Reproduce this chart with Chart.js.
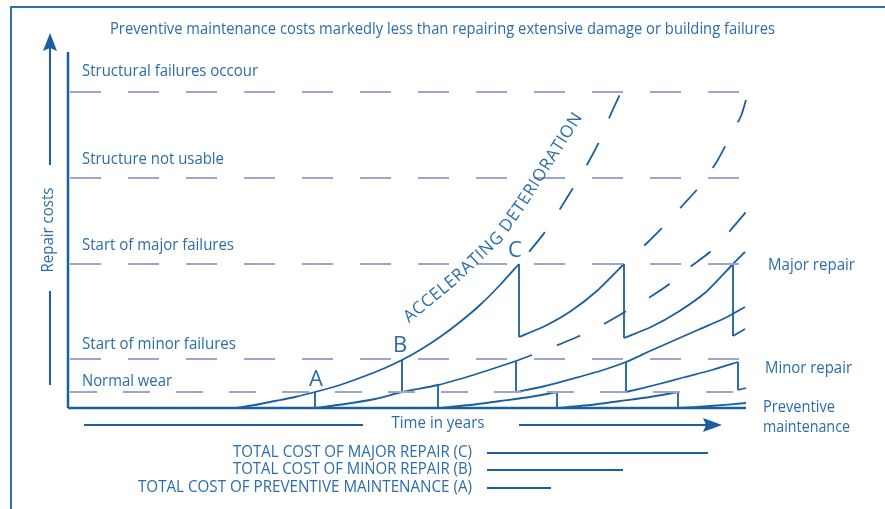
<!DOCTYPE html>
<html>
<head>
<meta charset="utf-8">
<script src="https://cdn.jsdelivr.net/npm/chart.js@4"></script>
<style>
  body { margin: 0; background: #fff; }
  canvas { display: block; }
</style>
</head>
<body>
<canvas id="chart" width="885" height="509"></canvas>
<script>
// 数据: x = time (arbitrary years), y = repair cost (arbitrary units)
var deterioration = [[16.7,0],[18.7,0.75],[20.7,1.75],[22.7,2.75],[24.7,4],[27.2,5.75],[29.7,8],[31.7,10],[33.4,12],[35.2,14.5],[37.2,17.75],[39.2,21.5],[41.2,25.75],[43.2,30.75],[45.1,36]];
var deteriorationUnrepaired = [[45.1,36],[46.1,39],[47.7,44],[49.2,49.75],[50.5,55],[52,61.25],[53.2,67],[54.2,73],[55.3,79]];
var majorRepair = [
    [[45.1,17.75],[47.7,20.5],[50.3,24.25],[53,29.5],[55.6,36]],
    [[55.6,17.5],[58.3,20.25],[61,24],[63.8,29],[66.5,36],[67.7,39]],
    [[66.5,18],[67.7,19.75]]
];
var majorUnrepaired = [[55.6,36],[57.9,41.25],[59.7,45.75],[61.5,50.75],[63.2,55.5],[64.8,61.25],[66,66.75],[67.3,73],[67.8,77]];
var minorRepair = [
    [[24.7,0],[27.7,1],[30.7,2.25],[33.4,4],[37,5.75],[40.2,8],[42.7,10],[44.8,11.75]],
    [[44.8,4],[47.7,5.5],[50.7,7.5],[53.2,9.25],[55.8,11.5],[58.2,14.25],[60.7,17],[63.2,19.75],[65.7,22.5],[67.7,25.25]],
    [[55.8,4],[58.7,5.75],[61.7,7.75],[64.4,9.5],[67,11.5]],
    [[67,4.5],[67.8,5]]
];
var minorUnrepaired = [[44.8,11.75],[46.4,13.25],[48.5,15.25],[50.9,17.75],[53.4,20.75],[55.5,23.75],[57.9,27.25],[60,30.75],[62.2,35.25],[64.2,39],[66.1,44],[67.8,49]];
var preventive = [
    [[37,0],[40.2,0.75],[43.2,1.75],[46.2,2.75],[48.9,4]],
    [[48.9,0],[52.2,0.75],[55.2,1.75],[58.2,2.75],[61,4]],
    [[61,0],[64.2,0.5],[67.8,1.25]]
];
// 修复点 [x, 上, 下]
var repairDrops = [[24.7,4,0],[33.4,12,4],[37,5.75,0],[44.8,11.75,4],[45.1,36,17.75],[48.9,4,0],[55.6,36,17.5],[55.8,11.5,4],[61,4,0],[66.5,36,18],[67,11.5,4.5]];

var levelValues = [79, 57.5, 36, 12.25, 4];
var levelLabels = ['Structural failures occour', 'Structure not usable', 'Start of major failures', 'Start of minor failures', 'Normal wear'];
var pointLabels = [['A', 24.8, 7], ['B', 33.2, 15.5], ['C', 44.7, 39.25]];
var curveText = 'ACCELERATING DETERIORATION';
var curveTextPath = [[34.2,23],[38.7,32.25],[43,42.5],[45.2,50.25],[48,61.25],[50.7,72]];

var totalLabels = ['TOTAL COST OF MAJOR REPAIR (C)', 'TOTAL COST OF MINOR REPAIR (B)', 'TOTAL COST OF PREVENTIVE MAINTENANCE (A)'];
var totalRows = [-11.25, -15.5, -20];
var totalStart = 41.9;
var totalEnd = [64, 55.5, 48.3];

var LINE = '#1b5f9f';
var TEXT = '#2a6dab';
var LEVEL = '#9ca4cf';
var FONT = '"Open Sans", "Noto Sans", sans-serif';

function pts(arr) {
    return arr.map(function (p) { return { x: p[0], y: p[1] }; });
}

function lineSet(arr, extra) {
    var ds = {
        data: pts(arr),
        borderColor: LINE,
        borderWidth: 1.8,
        pointRadius: 0,
        fill: false,
        clip: false,
        tension: 0.2
    };
    for (var k in extra) ds[k] = extra[k];
    return ds;
}

var datasets = [];
// 水平虚线
levelValues.forEach(function (v, i) {
    datasets.push(lineSet([[0.2, v], [67.7, v]], {
        borderColor: LEVEL, borderWidth: 2, tension: 0,
        borderDash: i === 4 ? [27, 26] : [31, 27]
    }));
});
datasets.push(lineSet(deterioration));
datasets.push(lineSet(deteriorationUnrepaired, { borderDash: [25, 27], borderDashOffset: 36 }));
majorRepair.forEach(function (s) { datasets.push(lineSet(s)); });
datasets.push(lineSet(majorUnrepaired, { borderDash: [25, 27], borderDashOffset: 25 }));
minorRepair.forEach(function (s) { datasets.push(lineSet(s)); });
datasets.push(lineSet(minorUnrepaired, { borderDash: [25, 27], borderDashOffset: 8 }));
preventive.forEach(function (s) { datasets.push(lineSet(s)); });

var dropPts = [];
repairDrops.forEach(function (d) {
    dropPts.push([d[0], d[1]], [d[0], d[2]], [d[0], null]);
});
datasets.push(lineSet(dropPts, { tension: 0, spanGaps: false }));

// 坐标轴
datasets.push(lineSet([[0, 0], [67.8, 0]], { borderWidth: 2.5, tension: 0 }));
datasets.push(lineSet([[0, 0], [0, 89]], { borderWidth: 2.5, tension: 0 }));

// 总成本
totalEnd.forEach(function (e, i) {
    datasets.push(lineSet([[totalStart, totalRows[i]], [e, totalRows[i]]], { borderWidth: 2, tension: 0 }));
});

// 文字 水平缩放以匹配宽度
function fitText(ctx, text, x, y, size, width, align) {
    ctx.save();
    ctx.font = size + 'px ' + FONT;
    var w = ctx.measureText(text).width;
    ctx.translate(x, y);
    if (width) ctx.scale(width / w, 1);
    ctx.textAlign = align || 'left';
    ctx.textBaseline = 'middle';
    ctx.fillStyle = TEXT;
    ctx.fillText(text, 0, 0);
    ctx.restore();
}

function textOnPath(ctx, text, path, size) {
    ctx.save();
    ctx.font = size + 'px ' + FONT;
    ctx.fillStyle = TEXT;
    ctx.textAlign = 'center';
    ctx.textBaseline = 'middle';
    var seg = [], L = 0;
    for (var i = 1; i < path.length; i++) {
        var dx = path[i][0] - path[i - 1][0], dy = path[i][1] - path[i - 1][1];
        var len = Math.sqrt(dx * dx + dy * dy);
        seg.push({ x: path[i - 1][0], y: path[i - 1][1], dx: dx, dy: dy, len: len, start: L });
        L += len;
    }
    var widths = text.split('').map(function (c) { return ctx.measureText(c).width; });
    var W = widths.reduce(function (a, b) { return a + b; }, 0);
    var span = W - widths[0] / 2 - widths[widths.length - 1] / 2;
    var k = L / span;
    var acc = 0;
    for (var j = 0; j < text.length; j++) {
        var s = (acc + widths[j] / 2 - widths[0] / 2) * k;
        acc += widths[j];
        var sg = seg[seg.length - 1];
        for (var m = 0; m < seg.length; m++) {
            if (s <= seg[m].start + seg[m].len) { sg = seg[m]; break; }
        }
        var t = (s - sg.start) / sg.len;
        ctx.save();
        ctx.translate(sg.x + sg.dx * t, sg.y + sg.dy * t);
        ctx.rotate(Math.atan2(sg.dy, sg.dx));
        ctx.fillText(text[j], 0, 0);
        ctx.restore();
    }
    ctx.restore();
}

var decorPlugin = {
    id: 'decor',
    afterDraw: function (chart) {
        var ctx = chart.ctx;
        var xs = chart.scales.x, ys = chart.scales.y;
        var area = chart.chartArea;

        // 外框
        ctx.save();
        ctx.strokeStyle = '#2d70ae';
        ctx.lineWidth = 2;
        ctx.beginPath();
        ctx.moveTo(885, 7);
        ctx.lineTo(11, 7);
        ctx.lineTo(11, 509);
        ctx.stroke();

        // y 方向箭头
        ctx.strokeStyle = LINE;
        ctx.fillStyle = LINE;
        ctx.lineWidth = 2;
        ctx.beginPath();
        ctx.moveTo(50, 165); ctx.lineTo(50, 46);
        ctx.moveTo(50, 291); ctx.lineTo(50, 385);
        ctx.stroke();
        ctx.beginPath();
        ctx.moveTo(50, 33); ctx.lineTo(43, 51); ctx.lineTo(50, 48); ctx.lineTo(57, 51);
        ctx.closePath(); ctx.fill();

        // 时间箭头
        var ty = area.bottom + 17;
        ctx.beginPath();
        ctx.moveTo(84, ty); ctx.lineTo(363, ty);
        ctx.moveTo(519, ty); ctx.lineTo(708, ty);
        ctx.stroke();
        ctx.beginPath();
        ctx.moveTo(722, ty); ctx.lineTo(703, ty - 7); ctx.lineTo(706, ty); ctx.lineTo(703, ty + 7);
        ctx.closePath(); ctx.fill();
        ctx.restore();

        // 标题
        fitText(ctx, 'Preventive maintenance costs markedly less than repairing extensive damage or building failures', 110, 29, 17, 665);

        // 水平线标签
        var offs = [21, 19, 19, 15, 11];
        var widths = [176, 142, 152, 154, 90];
        levelLabels.forEach(function (t, i) {
            fitText(ctx, t, 82, ys.getPixelForValue(levelValues[i]) - offs[i], 17, widths[i]);
        });

        // y 轴标题
        ctx.save();
        ctx.translate(48, 230);
        ctx.rotate(-Math.PI / 2);
        fitText(ctx, 'Repair costs', 0, 0, 17, 85, 'center');
        ctx.restore();

        fitText(ctx, 'Time in years', 438, 423, 17, 93, 'center');

        // 右侧标签
        fitText(ctx, 'Major repair', 768, ys.getPixelForValue(36) + 1, 17, 87);
        fitText(ctx, 'Minor repair', 765, 368, 17, 87);
        fitText(ctx, 'Preventive', 763, 407, 17, 72);
        fitText(ctx, 'maintenance', 763, 427, 17, 87);

        // A B C
        pointLabels.forEach(function (p) {
            fitText(ctx, p[0], xs.getPixelForValue(p[1]), ys.getPixelForValue(p[2]), 22, 0, 'center');
        });

        // 曲线文字
        var path = curveTextPath.map(function (p) {
            return [xs.getPixelForValue(p[0]), ys.getPixelForValue(p[1])];
        });
        textOnPath(ctx, curveText, path, 17);

        // 总成本标签
        var tw = [239, 239, 334];
        totalLabels.forEach(function (t, i) {
            fitText(ctx, t, 472, ys.getPixelForValue(totalRows[i]) - 1, 16, tw[i], 'right');
        });
    }
};

var chart = new Chart(document.getElementById('chart').getContext('2d'), {
    type: 'line',
    data: { datasets: datasets },
    options: {
        responsive: false,
        animation: false,
        devicePixelRatio: 1,
        layout: { padding: { left: 68, right: 140, top: 52, bottom: 101 } },
        plugins: { legend: { display: false }, tooltip: { enabled: false } },
        scales: {
            x: { type: 'linear', min: 0, max: 67.7, display: false },
            y: { type: 'linear', min: 0, max: 89, display: false }
        },
        elements: { point: { radius: 0 } }
    },
    plugins: [decorPlugin]
});
</script>
</body>
</html>
